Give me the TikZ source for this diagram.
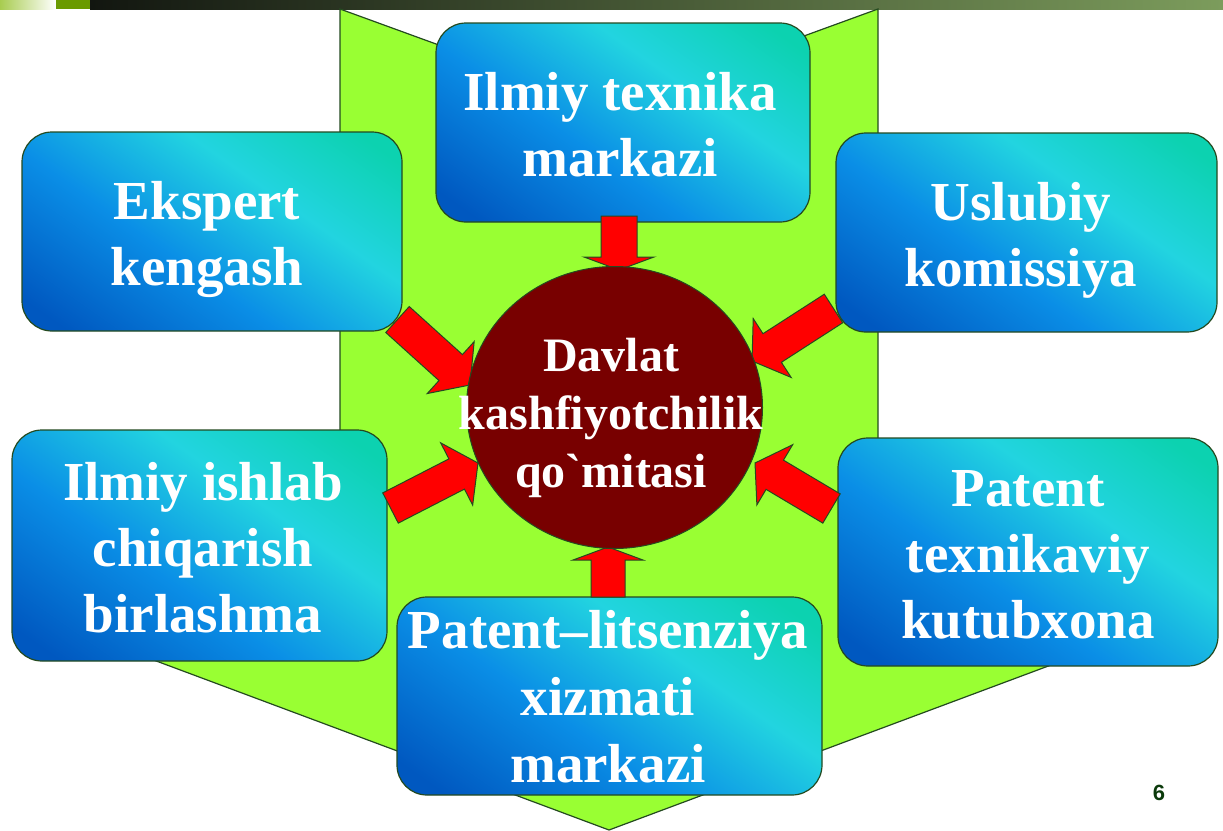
\documentclass[tikz,border=0pt]{standalone}
\usepackage{fontspec}
\setmainfont{Liberation Serif}[Ligatures=TeXOff]
\newfontfamily\numfont{Liberation Sans}
\usetikzlibrary{calc,shapes.geometric}
\definecolor{bgreen}{HTML}{99FF33}
\definecolor{edgegreen}{HTML}{244A20}
\definecolor{cblue}{HTML}{0058C0}
\definecolor{cmid}{HTML}{0A8EE6}
\definecolor{ccyan}{HTML}{22D4E0}
\definecolor{cteal}{HTML}{0CD2B0}
\definecolor{circred}{HTML}{780000}
\definecolor{barL}{HTML}{A8CC50}
\definecolor{barG}{HTML}{6A9A00}
\definecolor{barD}{HTML}{121610}
\definecolor{barR}{HTML}{7C9C5C}
\definecolor{numgreen}{HTML}{0B3A0B}
\pgfdeclarehorizontalshading{boxshade}{100bp}{color(0bp)=(cblue); color(20bp)=(cblue); color(42bp)=(cmid); color(62bp)=(ccyan); color(80bp)=(cteal); color(100bp)=(cteal)}
\tikzset{
  boxstyle/.style={draw=edgegreen, line width=1.2pt, rounded corners=30pt, shading=boxshade, shading angle=55, inner sep=0pt},
  btext/.style={text=white, font=\bfseries\fontsize{55}{66}\selectfont, align=center, inner sep=0pt},
  ctext/.style={text=white, font=\bfseries\fontsize{48}{58}\selectfont, align=center, inner sep=0pt},
  redarrow/.style={fill=red, draw=edgegreen, line width=1pt, line join=miter},
}
\newcommand\blkarrow[5]{%
  \path ($(#2)!#5!(#1)$) coordinate (hb);
  \draw[redarrow] ($(#1)!#3!90:(#2)$) -- ($(hb)!#3!90:(#2)$) -- ($(hb)!#4!90:(#2)$) -- (#2)
    -- ($(hb)!#4!-90:(#2)$) -- ($(hb)!#3!-90:(#2)$) -- ($(#1)!#3!-90:(#2)$) -- cycle;
}
\begin{document}
\begin{tikzpicture}[x=1pt,y=-1pt]
\useasboundingbox (0,0) rectangle (1223,830);
% top bar
\shade[left color=barL, right color=white] (0,0) rectangle (56,9);
\fill[barG] (56,0) rectangle (90,9);
\shade[left color=barD, right color=barR] (90,0) rectangle (1223,9);
% big green arrow shape
\draw[fill=bgreen, draw=edgegreen, line width=1.2pt, line join=miter]
  (340,9) -- (609,107) -- (878,9) -- (878,640) -- (1118,640) -- (609,830)
  -- (100,640) -- (340,640) -- cycle;
% boxes
\node[boxstyle, minimum width=374pt, minimum height=199pt] (itm) at (623,122.5) {};
\node[boxstyle, minimum width=380pt, minimum height=199pt] (ek) at (212,231.5) {};
\node[boxstyle, minimum width=381pt, minimum height=199pt] (uk) at (1026.5,232.5) {};
\node[boxstyle, minimum width=375pt, minimum height=231pt] (ich) at (199.5,545.5) {};
\node[boxstyle, minimum width=380pt, minimum height=228pt] (ptk) at (1028,552) {};
\node[boxstyle, minimum width=425pt, minimum height=198pt] (plx) at (609.5,696) {};
% arrow endpoints
\coordinate (a1s) at (619,216);   \coordinate (a1t) at (619,270);
\coordinate (a2s) at (608,597);   \coordinate (a2t) at (608,547);
\coordinate (a3s) at (397.5,319.5); \coordinate (a3t) at (470,385);
\coordinate (a4s) at (833.5,308.5); \coordinate (a4t) at (752,361);
\coordinate (a5s) at (390.5,508); \coordinate (a5t) at (478,463);
\coordinate (a6s) at (831.5,508.5); \coordinate (a6t) at (755,463);
\blkarrow{a1s}{a1t}{18pt}{35pt}{13pt}
\blkarrow{a2s}{a2t}{17pt}{35pt}{13pt}
\blkarrow{a3s}{a3t}{17.5pt}{35pt}{26pt}
\blkarrow{a4s}{a4t}{17pt}{35pt}{24pt}
\blkarrow{a5s}{a5t}{17pt}{35pt}{24pt}
\blkarrow{a6s}{a6t}{17pt}{35pt}{23pt}
% central circle
\node[ellipse, draw=edgegreen, line width=1pt, fill=circred, minimum width=296pt, minimum height=282pt, inner sep=0pt] (dk) at (614.5,407.5) {};
\node[ctext] (dkt) at (611,418) {Davlat\\kashfiyotchilik\\qo`mitasi};
% box texts
\node[btext] (itmt) at (620,124.7) {Ilmiy texnika\\markazi};
\node[btext] (ekt) at (207,239.7) {Ekspert\\kengash};
\node[btext] (ukt) at (1021,240.5) {Uslubiy\\komissiya};
\node[btext] (icht) at (203,548) {Ilmiy ishlab\\chiqarish\\birlashma};
\node[btext] (ptkt) at (1028,555) {Patent\\texnikaviy\\kutubxona};
\node[text=white, font=\bfseries\fontsize{55}{67}\selectfont, align=center, inner sep=0pt] (plxt) at (608,697) {Patent–litsenziya\\xizmati\\markazi};
% page number
\node[text=numgreen, font=\numfont\bfseries\fontsize{22}{26}\selectfont, inner sep=0pt] (pn) at (1159,793) {6};
\end{tikzpicture}
\end{document}
